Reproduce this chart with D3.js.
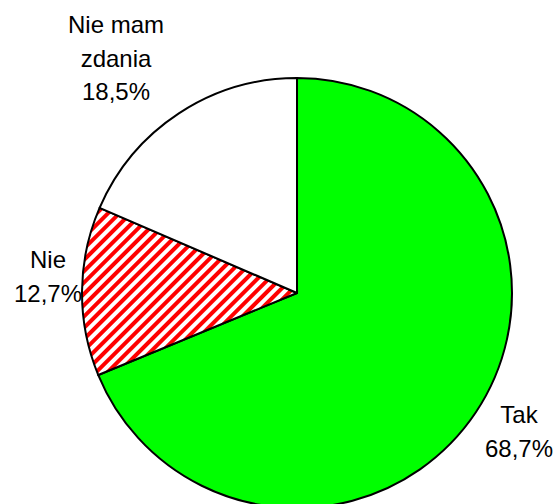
<!DOCTYPE html>
<html lang="pl">
  <head>
    <meta charset="utf-8" />
    <title>D3: pie chart</title>
    <script src="https://d3js.org/d3.v7.min.js"></script>
    <style type="text/css">
      body { margin: 0; background: #fff; }
    </style>
  </head>
  <body>
    <script type="text/javascript">
      const w = 560;
      const h = 504;

      // data
      const categories = ['Tak', 'Nie', 'Nie mam zdania'];
      const values = [68.7, 12.7, 18.5];
      const valueLabels = ['68,7%', '12,7%', '18,5%'];
      const labelLines = [['Tak', '68,7%'], ['Nie', '12,7%'], ['Nie mam', 'zdania', '18,5%']];

      const cx = 297;
      const cy = 293;
      const r = 215;

      const svg = d3.select('body').append('svg').attr('width', w).attr('height', h);

      // hatch pattern for "Nie"
      const defs = svg.append('defs');
      const pat = defs
        .append('pattern')
        .attr('id', 'hatch')
        .attr('patternUnits', 'userSpaceOnUse')
        .attr('width', 8)
        .attr('height', 8)
        .attr('patternTransform', 'rotate(45)');
      pat.append('rect').attr('width', 8).attr('height', 8).attr('fill', '#fff');
      pat.append('rect').attr('x', 0).attr('width', 4).attr('height', 8).attr('fill', '#ff0000');

      const fills = ['#00ff00', 'url(#hatch)', '#ffffff'];

      const pie = d3.pie().sort(null).value((d) => d);
      const arc = d3.arc().innerRadius(0).outerRadius(r);

      const g = svg.append('g').attr('transform', `translate(${cx},${cy})`);

      g.selectAll('path')
        .data(pie(values))
        .enter()
        .append('path')
        .attr('d', arc)
        .attr('fill', (d, i) => fills[i])
        .attr('stroke', '#000')
        .attr('stroke-width', 2)
        .attr('stroke-linejoin', 'round');

      // label anchor positions (centre x, first baseline)
      const labelPos = [
        [519, 423],
        [48, 268],
        [116, 33],
      ];

      const lab = svg
        .selectAll('text.lbl')
        .data(labelLines)
        .enter()
        .append('text')
        .attr('class', 'lbl')
        .attr('text-anchor', 'middle')
        .attr('font-family', 'Liberation Sans, Arial, sans-serif')
        .attr('font-size', '24px')
        .attr('fill', '#000');

      lab.each(function (lines, i) {
        d3.select(this)
          .selectAll('tspan')
          .data(lines)
          .enter()
          .append('tspan')
          .attr('x', labelPos[i][0])
          .attr('y', (d, j) => labelPos[i][1] + j * 33.5)
          .text((d) => d);
      });
    </script>
  </body>
</html>
